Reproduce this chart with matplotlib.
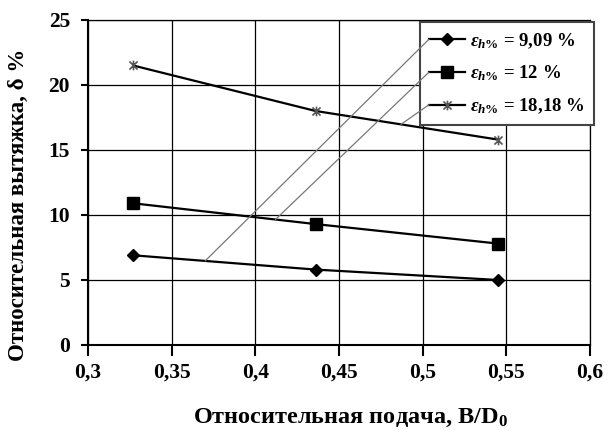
import matplotlib
matplotlib.use("Agg")
import matplotlib.pyplot as plt
import numpy as np
from matplotlib.path import Path

plt.rcParams['font.family'] = ['Liberation Serif', 'DejaVu Serif']
plt.rcParams['font.weight'] = 'bold'
plt.rcParams['mathtext.fontset'] = 'custom'
plt.rcParams['mathtext.rm'] = 'Liberation Serif:bold'
plt.rcParams['mathtext.it'] = 'Liberation Serif:italic:bold'
plt.rcParams['mathtext.default'] = 'rm'

# data
feed = [0.327, 0.436, 0.545]
draw_909 = [6.9, 5.8, 5.0]
draw_12 = [10.9, 9.3, 7.8]
draw_1818 = [21.5, 18.0, 15.8]
labels = [r'$\mathit{\varepsilon_{h\%}}$ = 9,09 %',
          r'$\mathit{\varepsilon_{h\%}}$ = 12 %',
          r'$\mathit{\varepsilon_{h\%}}$ = 18,18 %']
xticks = [0.3, 0.35, 0.4, 0.45, 0.5, 0.55, 0.6]
xticklabels = ['0,3', '0,35', '0,4', '0,45', '0,5', '0,55', '0,6']
yticks = [0, 5, 10, 15, 20, 25]
# where the leader lines meet each curve (x position)
leader_x = [0.370, 0.412, 0.487]

# Excel-like star: an x with a vertical bar
star = Path([(-1, -1), (1, 1), (-1, 1), (1, -1), (0, -1.2), (0, 1.2)],
            [Path.MOVETO, Path.LINETO, Path.MOVETO, Path.LINETO, Path.MOVETO, Path.LINETO])

fig = plt.figure(figsize=(6.09, 4.30), dpi=100)
ax = fig.add_axes([0.1445, 0.1977, 0.8245, 0.7558])

ax.plot(feed, draw_909, color='black', lw=1.6, marker='D', ms=6, mfc='black', mec='black', label=labels[0])
ax.plot(feed, draw_12, color='black', lw=1.6, marker='s', ms=8, mfc='black', mec='black', label=labels[1])
ax.plot(feed, draw_1818, color='black', lw=1.6, marker=star, ms=7, mfc='none', mec='#555555', mew=1.2, label=labels[2])

ax.set_xlim(0.3, 0.6)
ax.set_ylim(0, 25)
ax.set_xticks(xticks)
ax.set_xticklabels(xticklabels)
ax.set_yticks(yticks)
ax.grid(True, color='black', lw=0.9)
ax.set_axisbelow(True)
for s in ax.spines.values():
    s.set_linewidth(0.9)
ax.spines['left'].set_linewidth(1.5)
ax.spines['bottom'].set_linewidth(1.5)
ax.tick_params(axis='x', direction='out', length=8, width=1.5, pad=5, labelsize=15.5)
ax.tick_params(axis='y', direction='out', length=5, width=1.5, pad=8, labelsize=15.5)
for t in ax.get_xticklabels() + ax.get_yticklabels():
    t.set_fontweight('bold')

ax.set_xlabel(r'Относительная подача, B/D$_0$', fontsize=17.5, fontweight='bold')
ax.set_ylabel('Относительная вытяжка, δ %', fontsize=16.5, fontweight='bold')
ax.xaxis.set_label_coords(0.522, -0.19)
ax.yaxis.set_label_coords(-0.117, 0.43)

leg = ax.legend(loc='upper right', bbox_to_anchor=(1.008, 0.995), borderaxespad=0,
                fancybox=False, framealpha=1, edgecolor='#444444', fontsize=13.5,
                handlelength=1.9, handletextpad=0.3, labelspacing=0.7,
                borderpad=0.5)
leg.get_frame().set_linewidth(1.5)

# leader lines from legend handles down to the curves
fig.canvas.draw()
inv = ax.transAxes.inverted()
for hl, x, ys in zip(leg.get_lines(), leader_x, [draw_909, draw_12, draw_1818]):
    pts = hl.get_transform().transform(hl.get_xydata())
    start = inv.transform(pts[0])
    y = np.interp(x, feed, ys)
    ax.annotate('', xy=(x, y), xycoords='data', xytext=start, textcoords='axes fraction',
                arrowprops=dict(arrowstyle='-', color='#777777', lw=0.9, shrinkA=0, shrinkB=0),
                zorder=6)

fig.savefig('out.png', dpi=100)
